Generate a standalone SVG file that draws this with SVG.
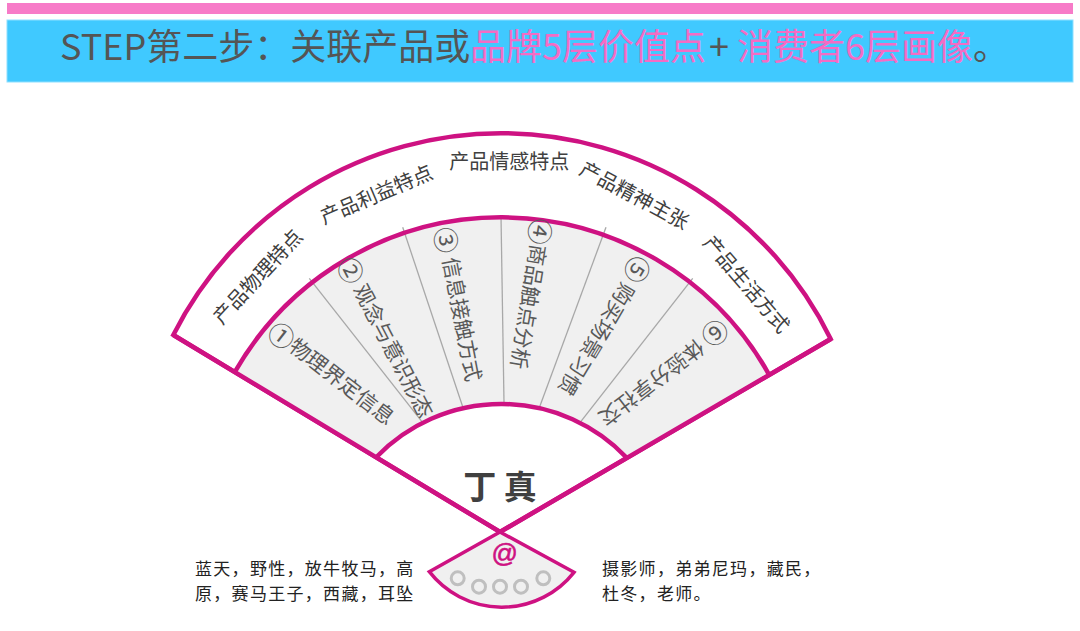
<svg xmlns="http://www.w3.org/2000/svg" width="1080" height="631" viewBox="0 0 1080 631">
<style>
.cjk{font-family:"Noto Sans CJK SC","Noto Sans",sans-serif}
.fan{stroke:#CE1282;stroke-width:4.5;stroke-linejoin:miter;fill:none}
.div{stroke:#a8a8a8;stroke-width:1.3}
.outer{font-size:20px;fill:#404040}
.inner{font-size:21px;fill:#595959}
.num{font-size:26px}
.side{font-size:17px;fill:#222;letter-spacing:1.3px}
.dot{fill:none;stroke:#bfbfbf;stroke-width:3}
</style>
<rect width="1080" height="631" fill="#fff"/>
<g id="header">
<rect x="7" y="3" width="1066" height="11" fill="#F77BC8"/>
<rect x="7" y="20" width="1066" height="62" fill="#40C9FF" stroke="#8EDFFF" stroke-width="1"/>
<text class="cjk" y="60" font-size="36" fill="#555"><tspan x="60">STEP第二步：关联产品或</tspan><tspan x="470" fill="#F46CC4">品牌5层价值点</tspan><tspan x="709" fill="#555">+</tspan><tspan x="737" fill="#F46CC4">消费者6层画像</tspan><tspan fill="#555">。</tspan></text>
</g>
<g id="fan-outer">
<path d="M173.3,335 A367,367 0 0 1 830.7,339 L500,532 Z" class="fan" style="fill:#fff"/>
</g>
<g id="fan-band">
<path d="M235,371.7 A306.7,306.7 0 0 1 768.3,373.3 L626.7,457.7 A173.4,173.4 0 0 0 376.7,456.7 Z" fill="#f0f0f0"/>
</g>
<g id="connectors">
<line class="div" x1="309.3" y1="278.3" x2="423.3" y2="423.3"/>
<line class="div" x1="402.7" y1="227.3" x2="462.7" y2="406.7"/>
<line class="div" x1="501" y1="216" x2="504" y2="403"/>
<line class="div" x1="606" y1="227.3" x2="539.3" y2="407.7"/>
<line class="div" x1="692.7" y1="278.3" x2="580" y2="422.7"/>
<path class="fan" d="M235,371.7 A306.7,306.7 0 0 1 768.3,373.3"/>
<path class="fan" d="M376.7,456.7 A173.4,173.4 0 0 1 626.7,457.7"/>
<path class="fan" d="M173.3,335 L500,532 L830.7,339"/>
</g>
<g id="ring-labels" class="cjk outer" text-anchor="middle" dominant-baseline="central">
<text transform="translate(256.7,275.8) rotate(-47)">产品物理特点</text>
<text transform="translate(375.8,193.3) rotate(-23)">产品利益特点</text>
<text transform="translate(509.2,160)">产品情感特点</text>
<text transform="translate(635,194.2) rotate(28)">产品精神主张</text>
<text transform="translate(747.5,283.3) rotate(49.5)">产品生活方式</text>
</g>
<g id="segment-labels" class="cjk inner" text-anchor="middle" dominant-baseline="central">
<text transform="translate(332.5,372.5) rotate(37.6)"><tspan class="num">①</tspan>物理界定信息</text>
<text transform="translate(387.5,336.7) rotate(62.5)"><tspan class="num">②</tspan> 观念与意识形态</text>
<text transform="translate(460.5,304) rotate(79)"><tspan class="num">③</tspan> 信息接触方式</text>
<text transform="translate(531.7,294.2) rotate(99.3)"><tspan class="num">④</tspan>商品触点分析</text>
<text transform="translate(605.5,326.7) rotate(120.8)"><tspan class="num">⑤</tspan> 购买场景习惯</text>
<text transform="translate(664.5,374.5) rotate(142.5)"><tspan class="num">⑥</tspan> 体验分享社交</text>
</g>
<g id="center-name">
<text class="cjk" x="500" y="485" font-size="33" font-weight="bold" fill="#404040" text-anchor="middle" dominant-baseline="central">丁 真</text>
</g>
<g id="fan-handle">
<path d="M500,532 L574,572.3 A92,92 0 0 1 429.3,571.7 Z" fill="#f0f0f0" stroke="#CE1282" stroke-width="3.5" stroke-linejoin="miter"/>
<text x="504.7" y="552.5" font-family="Liberation Sans, sans-serif" font-size="26" fill="#CE1282" text-anchor="middle" dominant-baseline="central" stroke="#CE1282" stroke-width="0.6">@</text>
<circle class="dot" cx="457.7" cy="578.3" r="6.5"/>
<circle class="dot" cx="479" cy="586.7" r="6.5"/>
<circle class="dot" cx="500" cy="586.7" r="6.5"/>
<circle class="dot" cx="521" cy="586.7" r="6.5"/>
<circle class="dot" cx="543.3" cy="578.3" r="6.5"/>
</g>
<g id="left-note">
<text class="cjk side" y="566.5" dominant-baseline="central"><tspan x="195">蓝天，野性，放牛牧马，高</tspan><tspan x="195" dy="25">原，赛马王子，西藏，耳坠</tspan></text>
</g>
<g id="right-note">
<text class="cjk side" y="566.5" dominant-baseline="central"><tspan x="602">摄影师，弟弟尼玛，藏民，</tspan><tspan x="602" dy="25">杜冬，老师。</tspan></text>
</g>
</svg>
